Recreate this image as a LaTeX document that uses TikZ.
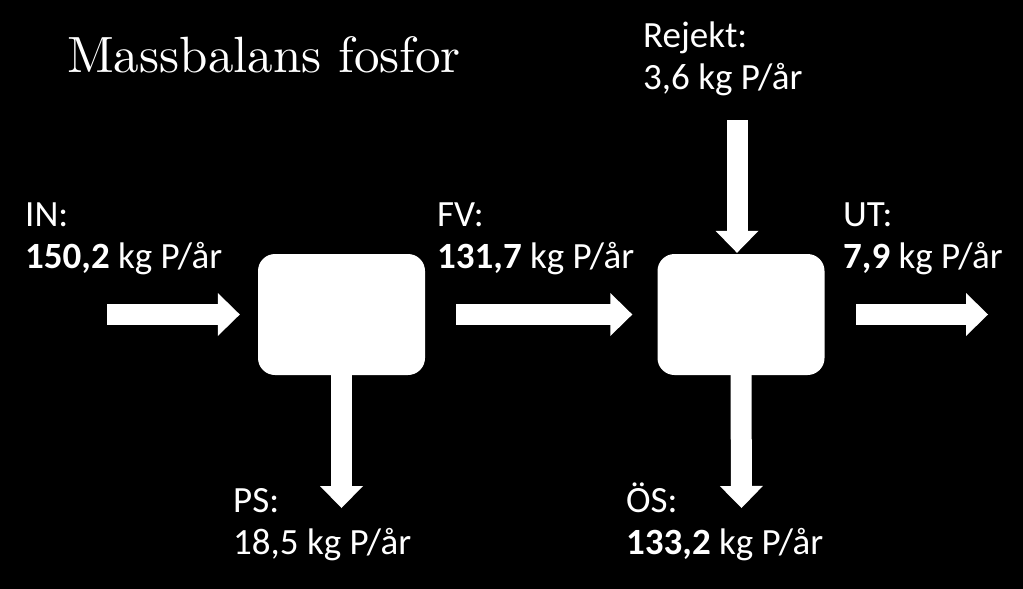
\documentclass[tikz,border=0pt]{standalone}
\usepackage{fontspec}
\newfontfamily\calib{Carlito}
\newfontfamily\titlefont{lmroman10-regular.otf}
\usetikzlibrary{arrows.meta}
\begin{document}
\begin{tikzpicture}[x=1pt,y=-1pt,
  box/.style={fill=white, rounded corners=17pt, minimum width=167pt, minimum height=121pt, inner sep=0pt},
  flow/.style={white, line width=21pt, line cap=rect, -{Triangle[width=43pt,length=22pt,line width=0pt]}},
  lbl/.style={text=white, font=\calib\fontsize{37}{42}\selectfont, anchor=base west, inner sep=0pt},
  titlestyle/.style={text=white, font=\titlefont\fontsize{51}{60}\selectfont, anchor=base west, inner sep=0pt}]
\fill[black] (0,0) rectangle (1023,589);
\useasboundingbox (0,0) rectangle (1023,589);
% boxes
\node[box] (b1) at (341.5,314.5) {};
\node[box] (b2) at (741,314.5) {};
% title
\node[titlestyle] (title) at (67,72) {Massbalans fosfor};
% labels
\node[lbl] (inA) at (25,226) {IN:};
\node[lbl] (inB) at (25,268) {\textbf{150,2} kg P/år};
\node[lbl] (fvA) at (437,226) {FV:};
\node[lbl] (fvB) at (437,268) {\textbf{131,7} kg P/år};
\node[lbl] (utA) at (843,226) {UT:};
\node[lbl] (utB) at (843,268) {\textbf{7,9} kg P/år};
\node[lbl] (rjA) at (643,47) {Rejekt:};
\node[lbl] (rjB) at (643,89) {3,6 kg P/år};
\node[lbl] (psA) at (233,512) {PS:};
\node[lbl] (psB) at (233,554) {18,5 kg P/år};
\node[lbl] (osA) at (626,512) {ÖS:};
\node[lbl] (osB) at (626,554) {\textbf{133,2} kg P/år};
% free ends (shaft starts offset by the rect cap)
\coordinate (inS) at (117.5,314.5);
\coordinate (utE) at (988,314.5);
\coordinate (rjS) at (737,130.5);
\coordinate (psE) at (341.5,508);
\coordinate (osE) at (741.5,508);
% flows
\draw[flow, shorten >=18pt] (inS) -- (b1.west);
\draw[flow, shorten <=41.5pt, shorten >=25pt] (b1.east) -- (b2.west);
\draw[flow, shorten <=41.5pt] (b2.east) -- (utE);
\draw[flow, shorten >=1pt] (rjS) -- (rjS |- b2.north);
\draw[flow, shorten <=10.5pt] (b1.south) -- (psE);
\draw[flow, shorten <=10.5pt] (b2.south) -- (osE);
\end{tikzpicture}
\end{document}
